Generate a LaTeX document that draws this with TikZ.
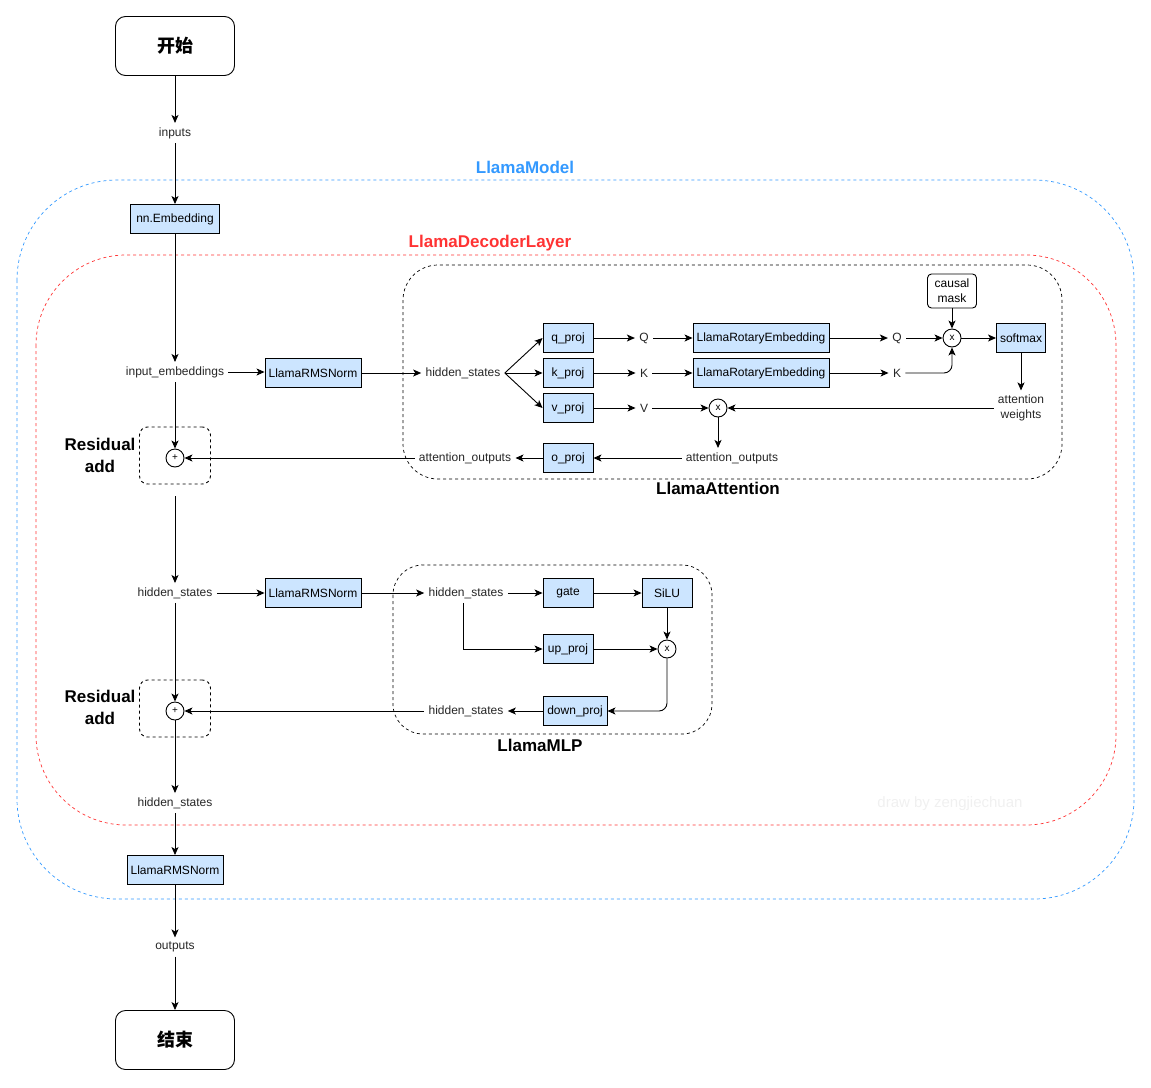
\documentclass[tikz,border=0pt]{standalone}
\usepackage{fontspec}
\setmainfont{Liberation Sans}
\newfontfamily\cjk{Noto Sans CJK SC}
\usetikzlibrary{arrows.meta}

\definecolor{blockblue}{HTML}{CCE5FF}
\definecolor{modelblue}{HTML}{3399FF}
\definecolor{layerred}{HTML}{FF3333}

\begin{document}
\begin{tikzpicture}[x=1pt, y=-1pt, line width=0.9pt,
    font=\fontsize{12}{15}\selectfont,
    arr/.style={-{Stealth[length=8pt, width=7pt, inset=2pt]}},
    block/.style={draw, fill=blockblue, minimum width=50pt, minimum height=29pt, inner xsep=3pt},
    lbl/.style={inner sep=4pt, text=black!85},
    op/.style={circle, draw, minimum size=18pt, inner sep=0pt, font=\fontsize{10}{12}\selectfont},
    terminal/.style={draw, rounded corners=10pt, minimum width=119pt, minimum height=59pt, font=\fontsize{18}{20}\selectfont\cjk\bfseries},
    maskbox/.style={draw, rounded corners=4pt, minimum width=49pt, minimum height=34pt, inner sep=2pt, align=center},
    resbox/.style={draw, dashed, rounded corners=8pt, minimum width=71pt, minimum height=57pt},
    reslbl/.style={align=center, font=\fontsize{17}{22}\selectfont\bfseries},
    title/.style={font=\fontsize{17}{20}\selectfont\bfseries}]
    \useasboundingbox (0,0) rectangle (1151,1087);

    % Draw containers
    \draw[modelblue, line width=0.7pt, dashed, rounded corners=100pt] (17,180) rectangle (1134,899);
    \draw[layerred, line width=0.7pt, dashed, rounded corners=90pt] (36,255) rectangle (1116,825);
    \draw[dashed, line width=0.7pt, rounded corners=35pt] (403,265) rectangle (1062,479);
    \draw[dashed, line width=0.7pt, rounded corners=30pt] (393,565) rectangle (712,734);
    \node[title, modelblue] (modeltitle) at (525,167) {LlamaModel};
    \node[title, layerred] (layertitle) at (490,243) {LlamaDecoderLayer};
    \node[title] (attntitle) at (718,488) {LlamaAttention};
    \node[title] (mlptitle) at (540,745) {LlamaMLP};
    \node[gray!12, font=\fontsize{15}{18}\selectfont] (mark) at (950,804) {draw by zengjiechuan};

    % Draw nodes
    \node[terminal] (start) at (175,46) {开始};
    \node[lbl] (inputs) at (175,133) {inputs};
    \node[block, minimum width=89pt] (embed) at (175,219) {nn.Embedding};
    \node[lbl] (inemb) at (175,372) {input\_embeddings};
    \node[block, minimum width=96pt] (norm1) at (313,373) {LlamaRMSNorm};
    \node[lbl] (hsa) at (463,373) {hidden\_states};

    % attention block
    \node[block] (qproj) at (568,338) {q\_proj};
    \node[block] (kproj) at (568,373) {k\_proj};
    \node[block] (vproj) at (568,408) {v\_proj};
    \node[lbl] (q1) at (644,338) {Q};
    \node[lbl] (k1) at (644,373) {K};
    \node[lbl] (v1) at (644,408) {V};
    \node[block, minimum width=136pt] (rope1) at (761,338) {LlamaRotaryEmbedding};
    \node[block, minimum width=136pt] (rope2) at (761,373) {LlamaRotaryEmbedding};
    \node[lbl] (q2) at (897,338) {Q};
    \node[lbl] (k2) at (897,373) {K};
    \node[op] (mul1) at (952,338) {x};
    \node[maskbox] (mask) at (952,291) {causal\\mask};
    \node[block, minimum width=49pt] (softmax) at (1021,338) {softmax};
    \node[lbl, align=center] (attw) at (1021,408) {attention\\weights};
    \node[op] (mul2) at (718,408) {x};
    \node[lbl] (attoa) at (732,458) {attention\_outputs};
    \node[block] (oproj) at (568,458) {o\_proj};
    \node[lbl] (attob) at (465,458) {attention\_outputs};

    % first residual add
    \node[op] (add1) at (175,458) {+};
    \node[resbox] (res1) at (175,455.5) {};
    \node[reslbl] (res1lbl) at (100,455) {Residual\\add};

    % mlp block
    \node[lbl] (hsb) at (175,593) {hidden\_states};
    \node[block, minimum width=96pt] (norm2) at (313,593) {LlamaRMSNorm};
    \node[lbl] (hsm) at (466,593) {hidden\_states};
    \node[block] (gate) at (568,593) {gate};
    \node[block] (silu) at (667,593) {SiLU};
    \node[block] (upproj) at (568,649) {up\_proj};
    \node[op] (mul3) at (667,649) {x};
    \node[block, minimum width=64pt] (downproj) at (575,711) {down\_proj};
    \node[lbl] (hsc) at (466,711) {hidden\_states};

    % second residual add
    \node[op] (add2) at (175,711) {+};
    \node[resbox] (res2) at (175,708.5) {};
    \node[reslbl] (res2lbl) at (100,707) {Residual\\add};

    \node[lbl] (hsd) at (175,803) {hidden\_states};
    \node[block, minimum width=96pt] (norm3) at (175,870) {LlamaRMSNorm};
    \node[lbl] (outputs) at (175,947) {outputs};
    \node[terminal] (stop) at (175,1040) {结束};

    % Draw edges
    \draw[arr] (start) -- (inputs);
    \draw[arr] (inputs) -- (embed);
    \draw[arr] (embed) -- (inemb);
    \draw[arr] (inemb.east) -- (inemb.east -| norm1.west);
    \draw[arr] (norm1) -- (hsa);
    \draw[arr] (hsa.east) -- (qproj.west);
    \draw[arr] (hsa.east) -- (kproj.west);
    \draw[arr] (hsa.east) -- (vproj.west);
    \draw[arr] (qproj) -- (q1);
    \draw[arr] (q1) -- (rope1);
    \draw[arr] (rope1) -- (q2);
    \draw[arr] (q2) -- (mul1);
    \draw[arr] (kproj) -- (k1);
    \draw[arr] (k1) -- (rope2);
    \draw[arr] (rope2) -- (k2);
    \draw[arr, rounded corners=8pt] (k2.east) -| (mul1.south); % K joins Q
    \draw[arr] (mask) -- (mul1);
    \draw[arr] (mul1) -- (softmax);
    \draw[arr] (softmax) -- (attw);
    \draw[arr] (attw) -- (mul2);
    \draw[arr] (vproj) -- (v1);
    \draw[arr] (v1) -- (mul2);
    \draw[arr] (mul2.south) -- (mul2.south |- attoa.north);
    \draw[arr] (attoa) -- (oproj);
    \draw[arr] (oproj) -- (attob);
    \draw[arr] (attob) -- (add1);
    \draw[arr] (inemb) -- (add1); % residual path
    \draw[arr, shorten <=12pt] (res1) -- (hsb);

    \draw[arr] (hsb) -- (norm2);
    \draw[arr] (norm2) -- (hsm);
    \draw[arr] (hsm) -- (gate);
    \draw[arr] (gate) -- (silu);
    \draw[arr] (silu) -- (mul3);
    \draw[arr] ([xshift=-3pt]hsm.south) |- (upproj.west);
    \draw[arr] (upproj) -- (mul3);
    \draw[arr, rounded corners=8pt] (mul3.south) |- (downproj.east);
    \draw[arr] (downproj) -- (hsc);
    \draw[arr] (hsc) -- (add2);
    \draw[arr] (hsb) -- (add2); % residual path
    \draw[arr] (add2) -- (hsd);
    \draw[arr] (hsd) -- (norm3);
    \draw[arr] (norm3) -- (outputs);
    \draw[arr] (outputs) -- (stop);
\end{tikzpicture}
\end{document}
